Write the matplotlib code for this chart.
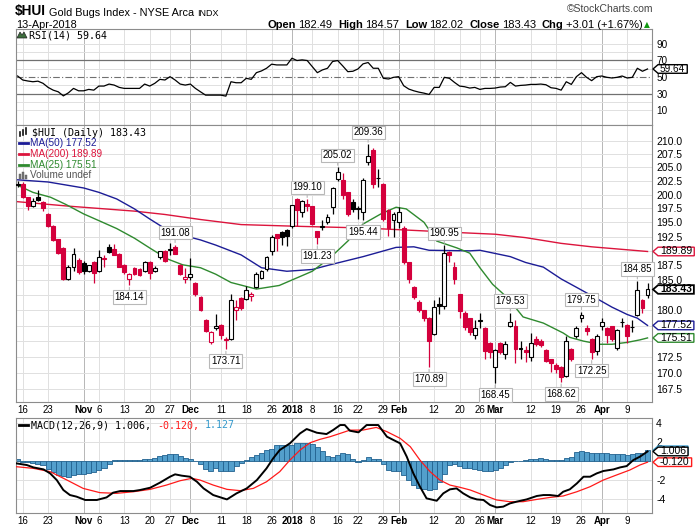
"""
$HUI Gold Bugs Index daily chart (StockCharts look): RSI / candles + MAs / MACD.
Values read off the reference picture; x is the trading-day index
(0 = 16-Oct-2017, -1 = 13-Oct-2017).
"""
import matplotlib
matplotlib.use("Agg")
import matplotlib.pyplot as plt
from matplotlib.lines import Line2D
from matplotlib.patches import Polygon, Rectangle
from matplotlib.ticker import NullLocator

W, H = 700, 530
plt.rcParams["font.family"] = ["Liberation Sans", "DejaVu Sans"]
MONO = ["DejaVu Sans Mono", "DejaVu Sans"]

RED = "#d4003c"
NAVY = "#1c1c96"
CRIMSON = "#dc143c"
GREEN = "#2f8a2f"
HIST_FC = "#539fcc"
HIST_EC = "#22628f"

# ---------------------------------------------------------------- data
first_day = -1
opens = [201.7, 202.0, 199.5, 197.9, 199.5, 198.7, 196.5, 194.4, 192.0, 190.5,
         185.2, 187.2, 188.5, 187.9, 186.5, 188.1, 186.6, 188.6, 190.6, 190.4,
         189.5, 187.6, 185.2, 187.1, 186.8, 186.6, 188.1, 186.5, 188.9, 190.0,
         190.2, 190.6, 187.6, 185.2, 185.5, 184.5, 182.2, 178.4, 174.9, 177.1,
         177.6, 175.4, 175.3, 180.0, 182.0, 181.8, 182.4, 183.8, 185.4, 186.8,
         190.0, 192.9, 193.3, 193.6, 194.4, 199.2, 196.9, 198.2, 197.9, 193.4,
         194.1, 195.0, 197.7, 202.9, 202.7, 200.4, 198.7, 197.4, 196.9, 206.1,
         208.3, 203.0, 202.0, 197.2, 195.5, 195.0, 194.0, 188.0, 183.9, 181.4,
         180.0, 178.7, 176.2, 181.1, 180.7, 189.8, 187.2, 182.6, 179.6, 178.7,
         175.9, 178.3, 177.1, 174.7, 170.9, 174.7, 172.9, 177.4, 177.4, 173.8,
         173.6, 172.5, 175.3, 175.1, 173.6, 172.1, 171.3, 171.0, 169.6, 173.7,
         175.8, 178.7, 177.1, 175.3, 173.5, 177.4, 177.1, 177.4, 173.9, 178.0,
         177.6, 177.2, 179.2, 181.7, 182.49]
highs = [202.4, 202.3, 199.6, 199.3, 200.8, 198.8, 196.7, 194.5, 192.1, 190.7,
         187.5, 190.5, 188.8, 188.2, 187.6, 188.2, 190.2, 189.3, 191.2, 191.2,
         189.6, 187.7, 186.2, 187.2, 187.0, 188.3, 188.2, 187.4, 190.0, 190.1,
         191.3, 191.08, 187.8, 187.1, 188.8, 184.7, 182.4, 178.6, 176.6, 179.3,
         177.7, 175.6, 182.6, 181.6, 182.1, 184.0, 183.0, 186.4, 186.7, 189.1,
         192.7, 193.0, 193.5, 193.8, 198.1, 199.4, 199.0, 199.10, 198.0, 193.5,
         195.5, 196.5, 201.3, 205.02, 204.0, 200.5, 199.2, 198.0, 203.0, 209.36,
         208.7, 204.7, 202.1, 197.4, 196.9, 197.7, 194.3, 188.1, 184.0, 181.6,
         180.1, 178.9, 181.7, 182.1, 190.95, 190.0, 188.1, 182.7, 179.8, 178.8,
         178.4, 179.5, 177.2, 174.8, 173.8, 174.9, 175.0, 179.53, 178.4, 175.0,
         174.3, 176.3, 175.8, 175.3, 173.7, 172.2, 171.5, 171.1, 175.8, 173.9,
         177.5, 179.75, 177.6, 175.5, 176.2, 178.7, 177.2, 177.5, 177.0, 178.7,
         177.7, 178.4, 184.85, 181.8, 184.57]
lows = [201.4, 199.3, 197.2, 197.7, 198.8, 197.1, 194.2, 191.7, 189.4, 185.0,
        185.0, 186.5, 186.1, 186.0, 186.4, 184.6, 186.3, 187.2, 189.6, 189.2,
        187.2, 186.0, 184.14, 185.8, 185.7, 186.4, 185.2, 186.3, 188.6, 188.0,
        189.3, 189.4, 185.8, 184.5, 185.0, 182.4, 179.8, 176.4, 174.5, 176.8,
        175.3, 173.71, 175.2, 178.4, 180.1, 181.7, 181.5, 183.6, 185.2, 186.6,
        189.2, 190.0, 191.0, 190.9, 194.0, 194.4, 196.0, 197.0, 194.5, 191.23,
        193.7, 194.7, 196.5, 202.5, 199.2, 196.2, 196.9, 195.6, 195.44, 205.5,
        201.2, 201.4, 195.3, 192.6, 192.5, 194.0, 187.8, 184.5, 181.9, 179.7,
        178.2, 170.89, 176.0, 179.3, 180.2, 188.0, 184.3, 178.7, 176.8, 176.0,
        175.3, 177.1, 172.1, 172.4, 168.45, 172.9, 172.1, 177.2, 171.6, 172.1,
        171.7, 171.8, 174.3, 174.0, 171.7, 170.1, 170.0, 168.62, 169.4, 171.8,
        175.5, 178.0, 175.9, 172.25, 172.8, 176.8, 174.7, 175.0, 173.6, 177.3,
        174.7, 176.5, 179.0, 179.5, 182.02]
closes = [202.0, 199.5, 197.9, 198.9, 199.0, 197.5, 194.4, 191.9, 189.6, 185.2,
          187.2, 189.5, 186.3, 186.5, 187.5, 186.2, 188.9, 188.8, 189.8, 189.3,
          187.3, 186.3, 186.1, 186.0, 185.9, 188.1, 186.2, 187.1, 189.9, 188.2,
          190.3, 189.5, 186.0, 185.5, 186.1, 182.6, 180.0, 176.6, 176.4, 177.5,
          175.9, 175.2, 181.6, 180.5, 180.3, 183.3, 182.7, 186.0, 186.5, 188.9,
          192.5, 192.2, 192.5, 192.6, 198.1, 197.2, 198.9, 198.0, 194.7, 192.5,
          194.4, 195.9, 201.2, 204.1, 200.0, 196.5, 197.3, 197.5, 202.7, 207.1,
          202.0, 203.1, 195.6, 194.0, 196.5, 196.9, 188.1, 185.2, 182.2, 180.0,
          178.7, 175.0, 180.6, 180.7, 189.6, 189.2, 185.2, 179.8, 177.2, 176.5,
          177.1, 178.4, 173.4, 173.2, 173.6, 173.2, 174.6, 178.1, 173.7, 173.9,
          173.2, 174.7, 174.6, 174.4, 171.9, 171.6, 170.6, 169.4, 175.0, 172.1,
          177.1, 179.2, 176.7, 173.2, 175.8, 178.1, 176.0, 175.3, 176.8, 178.1,
          175.8, 177.3, 183.3, 180.42, 183.43]

rsi = [51.2, 46.4, 45.2, 44.3, 45.0, 42.4, 37.5, 34.2, 32.2, 27.3,
       31.0, 36.3, 33.4, 33.4, 35.1, 34.2, 39.1, 39.1, 41.5, 40.3,
       37.5, 36.3, 36.3, 36.3, 36.3, 41.5, 39.1, 42.4, 47.2, 46.4,
       50.4, 46.4, 41.5, 40.3, 41.5, 36.3, 32.2, 28.2, 28.2, 28.2,
       28.2, 27.0, 44.3, 43.1, 43.1, 48.4, 47.2, 55.2, 57.3, 60.5,
       65.4, 64.5, 64.5, 64.5, 72.6, 69.8, 70.6, 69.8, 62.5, 55.2,
       58.5, 60.5, 68.6, 69.8, 63.3, 56.4, 56.9, 59.7, 65.8, 67.4,
       60.5, 60.5, 48.4, 47.6, 49.6, 50.4, 39.5, 35.5, 33.4, 31.8,
       30.6, 29.0, 37.5, 37.5, 49.6, 48.4, 43.5, 39.1, 38.3, 36.7,
       37.5, 35.1, 36.3, 36.3, 36.7, 37.9, 38.3, 43.5, 39.1, 39.9,
       40.3, 41.1, 41.1, 41.5, 40.7, 37.1, 36.3, 34.2, 44.3, 41.1,
       50.4, 55.2, 49.6, 45.6, 50.4, 51.2, 49.6, 48.8, 49.6, 51.2,
       48.8, 49.6, 60.5, 56.9, 59.64]

ma50_day = [-1, 5, 12, 15, 18.5, 22, 25, 28, 31.5, 35, 38, 43, 47, 52, 57, 60.5,
            67, 73.5, 77, 80, 88, 90, 96, 99, 102.5, 106, 109, 112, 116, 119,
            121, 123]
ma50_val = [202.7, 202.3, 201.2, 200.4, 199.2, 197.4, 195.6, 193.9, 192.7, 191.9,
            191.0, 189.3, 187.1, 186.5, 186.8, 187.6, 189.0, 190.6, 190.7, 190.1,
            190.0, 190.1, 189.0, 188.0, 187.2, 185.2, 183.8, 182.4, 180.5, 179.3,
            178.7, 177.52]

ma200_day = [-1, 9, 22, 28, 35, 43, 54, 67, 74, 88, 93, 99, 106, 112, 123]
ma200_val = [198.7, 197.9, 197.0, 196.4, 195.5, 194.6, 194.3, 194.0, 193.7, 193.1,
             192.9, 192.3, 191.3, 190.7, 189.89]

ma25_day = [-1, 2, 5.5, 8.5, 12, 15, 18.5, 22, 25, 28.5, 31.5, 35, 38, 41, 46,
            50.5, 57, 60.5, 64, 67, 70.5, 73.5, 75.5, 79, 81.5, 85.5, 88, 90,
            92.5, 95.5, 98.5, 102.5, 106.4, 107.7, 110.4, 113.6, 116, 119, 121.5,
            123]
ma25_val = [201.7, 200.4, 199.5, 198.2, 196.5, 195.3, 193.9, 192.2, 190.5, 188.6,
            187.6, 187.1, 186.0, 184.6, 183.5, 184.1, 186.5, 188.8, 191.7, 194.7,
            196.5, 197.7, 197.4, 195.0, 191.7, 190.5, 189.6, 187.1, 184.3, 182.0,
            178.9, 177.9, 176.3, 175.6, 175.0, 174.5, 174.5, 174.8, 175.2, 175.51]

macd_day = [-1.2, 0.8, 2.1, 4.1, 5.4, 6.7, 8.0, 9.3, 10.6, 12.3, 14.6, 16.5, 17.8,
            19.2, 21.8, 23.1, 25.1, 27.0, 29.0, 30.0, 31.3, 32.9, 34.3, 35.6, 37.5,
            40.2, 42.1, 44.1, 46.1, 48.0, 49.3, 50.6, 52.6, 54.6, 55.9, 57.9, 59.8,
            61.1, 62.5, 63.4, 64.4, 66.1, 67.7, 70.0, 71.7, 73.0, 74.3, 75.6, 76.9,
            78.2, 79.5, 81.5, 82.8, 84.1, 85.4, 86.7, 88.1, 89.4, 90.7, 92.0, 93.3,
            94.6, 95.9, 97.2, 99.2, 101.2, 102.5, 103.8, 105.4, 106.4, 107.7, 109.1,
            110.4, 111.7, 113.0, 114.3, 116.3, 117.6, 118.9, 120.2, 121.5, 123]
macd_val = [-0.25, -0.42, -0.67, -0.88, -1.30, -2.0, -3.05, -3.58, -3.75, -4.1,
            -4.1, -3.83, -3.33, -3.16, -3.16, -3.05, -2.81, -2.28, -1.65, -1.40,
            -1.54, -1.65, -2.18, -2.88, -3.58, -4.04, -3.4, -2.88, -2.0, -0.77,
            0.28, 1.16, 1.86, 2.91, 3.37, 2.98, 2.84, 3.26, 3.79, 3.79, 3.19, 3.02,
            3.79, 3.79, 2.56, 2.21, 1.86, 0.46, -1.30, -2.7, -3.93, -4.18, -3.4,
            -2.98, -2.88, -3.4, -3.83, -4.04, -4.1, -4.63, -4.88, -4.8, -4.46,
            -4.28, -4.04, -3.68, -3.58, -3.58, -3.68, -3.23, -2.98, -2.35, -1.65,
            -1.65, -1.30, -1.05, -0.88, -0.67, -0.53, 0.1, 0.46, 1.006]

signal_day = [-1.2, 2.1, 5.4, 8.7, 11.9, 15.2, 18.5, 21.8, 25.1, 28.3, 31.0, 33.3,
              34.9, 37.5, 40.2, 42.8, 45.4, 48.0, 50.6, 52.6, 54.6, 56.6, 58.5,
              60.5, 62.5, 64.4, 67.0, 69.6, 71.7, 74.3, 76.3, 78.2, 80.2, 82.1,
              84.1, 86.1, 88.1, 90.7, 93.3, 95.9, 98.5, 101.2, 103.8, 106.4, 109.1,
              111.7, 114.3, 116.9, 119.5, 121.5, 123]
signal_val = [-0.6, -0.77, -1.12, -2.0, -2.88, -3.33, -3.40, -3.23, -2.98, -2.53,
              -2.07, -1.82, -2.0, -2.53, -2.98, -3.12, -2.88, -2.18, -1.12, 0.1,
              1.16, 1.93, 2.28, 2.56, 2.91, 3.25, 3.26, 3.54, 3.09, 2.39, 1.51, 0.1,
              -1.12, -2.0, -2.53, -2.77, -3.05, -3.58, -4.1, -4.28, -4.28, -4.04,
              -3.83, -3.68, -3.23, -2.7, -2.0, -1.47, -0.95, -0.42, -0.120]

hist = [0.25, -0.1, -0.1, -0.2, -0.28, -0.46, -0.8, -1.16, -1.5, -1.6,
        -1.68, -1.44, -1.33, -1.33, -1.26, -1.16, -0.98, -0.7, -0.28, 0.14,
        0.14, 0.07, 0.07, 0.07, 0.07, 0.25, 0.25, 0.32, 0.49, 0.6,
        0.77, 0.77, 0.49, 0.32, 0.25, 0.0, -0.28, -0.8, -1.05, -0.7,
        -1.05, -1.05, -1.05, -0.55, -0.2, 0.07, 0.42, 0.6, 0.84, 1.12,
        1.3, 1.65, 1.72, 1.72, 1.72, 1.93, 1.93, 1.9, 1.82, 1.47,
        1.05, 0.49, 0.42, 0.6, 0.88, 0.7, 0.25, -0.1, 0.07, 0.42,
        0.25, 0.25, -0.35, -0.9, -1.05, -1.05, -1.5, -2.0, -2.56, -2.8,
        -2.9, -3.1, -2.9, -2.2, -1.33, -0.46, -0.35, -0.56, -0.7, -0.7,
        -0.8, -0.9, -1.0, -1.05, -0.9, -0.7, -0.46, -0.1, -0.04, 0.0,
        0.07, 0.18, 0.25, 0.32, 0.25, 0.14, 0.07, 0.07, 0.35, 0.42,
        0.95, 1.05, 0.95, 0.84, 0.84, 0.84, 0.84, 0.7, 0.7, 0.7,
        0.67, 0.77, 0.88, 0.88, 1.127]

tick_days = [0, 5, 12, 15, 20, 25, 29, 33, 39, 44, 49, 53, 57, 62, 66, 71, 74,
             81, 86, 90, 93, 100, 105, 110, 114, 119]
tick_labels = ["16", "23", "Nov", "6", "13", "20", "27", "Dec", "11", "18", "26",
               "2018", "8", "16", "22", "29", "Feb", "12", "20", "26", "Mar", "12",
               "19", "26", "Apr", "9"]
month_labels = {"Nov", "Dec", "2018", "Feb", "Mar", "Apr"}

callouts = [(30, 191.08, 1), (21, 184.14, -1), (40, 173.71, -1), (56, 199.10, 1),
            (58, 191.23, -1), (62, 205.02, 1), (67, 195.44, -1), (68, 209.36, 1),
            (80, 170.89, -1), (83, 190.95, 1), (93, 168.45, -1), (96, 179.53, 1),
            (106, 168.62, -1), (110, 179.75, 1), (112, 172.25, -1), (121, 184.85, 1)]

price_ticks = [167.5 + 2.5 * k for k in range(18)]
# labels that sit under the value tags on the right axis are left blank
hidden_price_labels = {175.0, 177.5, 182.5, 190.0}
days = [first_day + k for k in range(len(closes))]

# ---------------------------------------------------------------- layout
fig = plt.figure(figsize=(W / 100, H / 100), dpi=100)
fig.patch.set_facecolor("white")


def rect(top, bottom, left=16, right=652):
    return [left / W, 1 - bottom / H, (right - left) / W, (bottom - top) / H]


ax_rsi = fig.add_axes(rect(29, 125))
ax = fig.add_axes(rect(125, 402))
ax_m = fig.add_axes(rect(418, 513))


def style(a, labels):
    a.set_xlim(-1.32, 123.88)
    a.set_xticks(tick_days)
    a.set_xticklabels(tick_labels if labels else [])
    for lbl in a.get_xticklabels():
        if lbl.get_text() in month_labels:
            lbl.set_fontweight("bold")
    for s in a.spines.values():
        s.set_color("#8c8c8c")
        s.set_linewidth(0.8)
    a.yaxis.tick_right()
    a.tick_params(axis="x", length=0, labelsize=7, pad=2.5)
    a.tick_params(axis="y", length=0, labelsize=7.5, pad=3)
    for d, lab in zip(tick_days, tick_labels):
        a.axvline(d, color="#b6b6b6" if lab in month_labels else "#e0e0e0",
                  lw=0.7, zorder=0)


# ---------------------------------------------------------------- RSI
style(ax_rsi, False)
ax_rsi.set_ylim(-7.7, 107.7)
ax_rsi.set_yticks([10, 30, 50, 70, 90])
for lbl in ax_rsi.get_yticklabels():
    lbl.set_fontsize(7.2)
for lv in [10, 20, 40, 60, 80, 90]:
    ax_rsi.axhline(lv, color="#e0e0e0", lw=0.7, zorder=0)
ax_rsi.axhline(70, color="#707070", lw=0.9, zorder=1)
ax_rsi.axhline(30, color="#707070", lw=0.9, zorder=1)
ax_rsi.axhline(50, color="#707070", lw=0.8, ls=(0, (6, 2, 1, 2)), zorder=1)
ax_rsi.plot(days, rsi, color="black", lw=0.9, zorder=3)

# ---------------------------------------------------------------- price
style(ax, True)
ax.set_yscale("log")
ax.set_ylim(165.56, 213.08)
ax.yaxis.set_minor_locator(NullLocator())
ax.set_yticks(price_ticks)
ax.set_yticklabels(["" if v in hidden_price_labels else f"{v:.1f}" for v in price_ticks])
for v in price_ticks:
    ax.axhline(v, color="#e0e0e0", lw=0.7, zorder=0)

ax.plot(ma200_day, ma200_val, color=CRIMSON, lw=1.0, zorder=2)
ax.plot(ma50_day, ma50_val, color=NAVY, lw=1.0, zorder=2)
ax.plot(ma25_day, ma25_val, color=GREEN, lw=1.0, zorder=2)

prev = [closes[0]] + closes[:-1]
wick_cols = []
for d, o, hi, lo, c, pc in zip(days, opens, highs, lows, closes, prev):
    col = RED if c < pc else "black"
    wick_cols.append(col)
    b0, b1 = min(o, c), max(o, c)
    ax.add_patch(Rectangle((d - 0.38, b0), 0.76, max(b1 - b0, 0.06),
                           facecolor=col if c < o else "white", edgecolor=col,
                           lw=0.8, zorder=4))
ax.vlines(days, lows, highs, colors=wick_cols, lw=0.9, zorder=3)

for d, v, side in callouts:
    ax.annotate(f"{v:.2f}", xy=(d, v), xytext=(0, 12 * side),
                textcoords="offset pixels", ha="center", va="center", fontsize=7,
                bbox=dict(boxstyle="square,pad=0.18", fc="white", ec="#b8b8b8", lw=0.8),
                arrowprops=dict(arrowstyle="-", color="#b8b8b8", lw=0.8,
                                shrinkA=0, shrinkB=1.5),
                zorder=6)

# ---------------------------------------------------------------- MACD
style(ax_m, True)
ax_m.set_ylim(-5.47, 4.53)
ax_m.set_yticks([-4, -2, 0, 2, 4])
ax_m.set_yticklabels(["-4", "-2", "", "2", "4"])
for v in [-4, -2, 0, 2, 4]:
    ax_m.axhline(v, color="#e0e0e0", lw=0.7, zorder=0)
ax_m.bar(days, hist, width=1.0, color=HIST_FC, edgecolor=HIST_EC, lw=0.6, zorder=2)
ax_m.plot(signal_day, signal_val, color="#ff1a1a", lw=0.9, zorder=3)
ax_m.plot(macd_day, macd_val, color="black", lw=1.4, zorder=4)

# ---------------------------------------------------------------- texts
renderer = fig.canvas.get_renderer()


def put(x, y, s, **kw):
    return fig.text(x / W, 1 - y / H, s, **kw)


def text_run(x, y, pieces, size, family=None, gap=0.0):
    for s, weight, color in pieces:
        kw = dict(fontsize=size, fontweight=weight, color=color, va="baseline")
        if family:
            kw["family"] = family
        t = put(x, y, s, **kw)
        x += t.get_window_extent(renderer).width + gap
    return x


def tag(a, val, s, edge, weight="normal", lw=1.0, show_text=True, size=7.5):
    yd = a.transData.transform((0, val))[1]
    x0 = a.get_position().x1 * W
    w = 26
    if show_text:
        t = fig.text((x0 + 8) / W, yd / H, s, fontsize=size, fontweight=weight,
                     va="center", ha="left", zorder=8)
        w = t.get_window_extent(renderer).width
    hh = 4.3
    pts = [(x0 + 1, yd), (x0 + 6, yd + hh), (x0 + 10 + w, yd + hh),
           (x0 + 10 + w, yd - hh), (x0 + 6, yd - hh)]
    fig.add_artist(Polygon([(px / W, py / H) for px, py in pts], closed=True,
                           fc="white", ec=edge, lw=lw, zorder=7,
                           transform=fig.transFigure))


# header
x = text_run(15, 15.5, [("$HUI", "bold", "black")], 9.8, gap=3)
x = text_run(x, 15.5, [("Gold Bugs Index - NYSE Arca", "normal", "black")], 7.8, gap=3)
put(x, 15.5, "INDX", fontsize=6.5, va="baseline")
put(16, 27.5, "13-Apr-2018", fontsize=7.8, va="baseline")
put(653, 12.5, "\u00a9StockCharts.com", fontsize=7.5, color="#444444",
    ha="right", va="baseline")
header = [("Open", "182.49"), ("High", "184.57"), ("Low", "182.02"),
          ("Close", "183.43"), ("Chg", "+3.01 (+1.67%)")]
x = 268
for name, val in header:
    x = text_run(x, 27.5, [(name, "bold", "black")], 8.0, gap=2)
    x = text_run(x, 27.5, [(val, "normal", "black")], 8.0, gap=6)
put(x - 4, 27.5, "\u25b2", fontsize=5.5, color="#119911", va="baseline",
    family="DejaVu Sans")

# RSI legend
fig.add_artist(Polygon([(17 / W, 1 - 38 / H), (20 / W, 1 - 32 / H), (22 / W, 1 - 35 / H),
                        (24 / W, 1 - 32 / H), (27 / W, 1 - 38 / H)], closed=True,
                       fc="#3c6e3c", ec="#222222", lw=0.5, transform=fig.transFigure))
put(29, 38.5, "RSI(14) 59.64", fontsize=7.2, family=MONO, va="baseline")

# price legend
for k in range(3):
    fig.add_artist(Rectangle(((18.5 + 3 * k) / W, 1 - (136 - k) / H), 1.8 / W,
                             (5 + k) / H, fc="black", ec="black", lw=0.4,
                             transform=fig.transFigure))
put(32, 136, "$HUI (Daily) 183.43", fontsize=7.2, family=MONO, va="baseline")
legend_rows = [(143.3, NAVY, "MA(50) 177.52"), (154.2, CRIMSON, "MA(200) 189.89"),
               (165.0, GREEN, "MA(25) 175.51")]
for y, col, s in legend_rows:
    fig.add_artist(Line2D([19 / W, 28 / W], [1 - y / H, 1 - y / H], color=col,
                          lw=2.0, transform=fig.transFigure))
    put(29.5, y, s, fontsize=7.2, color=col, va="center")
for k, hgt in enumerate([5, 7, 4]):
    fig.add_artist(Rectangle(((18.5 + 3 * k) / W, 1 - 179 / H), 2.2 / W, hgt / H,
                             fc="#777777", ec="#555555", lw=0.3,
                             transform=fig.transFigure))
put(29.5, 175.5, "Volume undef", fontsize=7.2, color="#555555", va="center")

# MACD legend
fig.add_artist(Line2D([19 / W, 28 / W], [1 - 425 / H, 1 - 425 / H], color="black",
                      lw=2.0, transform=fig.transFigure))
char = 7.2 * 100 / 72 * 0.602
x = text_run(31, 428.5, [("MACD(12,26,9) 1.006,", "normal", "black")], 7.2,
             family=MONO, gap=char)
x = text_run(x, 428.5, [("-0.120,", "normal", "#ff1a1a")], 7.2, family=MONO, gap=char)
text_run(x, 428.5, [("1.127", "normal", "#3399cc")], 7.2, family=MONO)

# value tags on the right axis
tag(ax_rsi, 59.64, "59.64", "black", size=7.2)
tag(ax, 189.89, "189.89", CRIMSON)
tag(ax, 183.43, "183.43", "black", weight="bold", lw=1.3)
tag(ax, 177.52, "177.52", NAVY)
tag(ax, 175.51, "175.51", GREEN)
tag(ax_m, 1.127, "1.127", "#3399cc", show_text=False)
tag(ax_m, 1.006, "1.006", "black")
tag(ax_m, -0.120, "-0.120", "#ff1a1a")

fig.savefig("out.png", dpi=100, facecolor="white")
